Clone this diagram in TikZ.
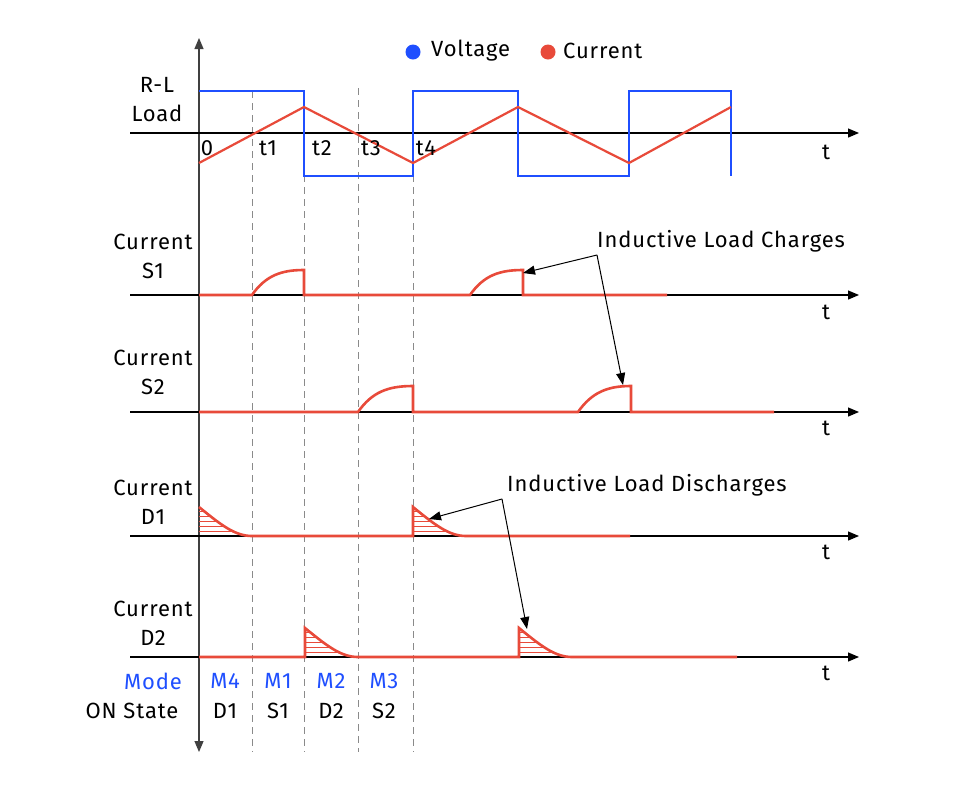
\documentclass[tikz,border=0pt]{standalone}
\usepackage{fontspec}
\setmainfont[LetterSpace=4]{Fira Sans}
\usetikzlibrary{arrows.meta}
\definecolor{vblue}{HTML}{1F4FFF}
\definecolor{cred}{HTML}{E84A3A}
\definecolor{dgray}{HTML}{8A8A8A}
\begin{document}
\begin{tikzpicture}[x=1pt,y=-1pt,
  lbl/.style={font=\fontsize{22}{29}\selectfont, inner sep=0pt, align=center},
  axisline/.style={line width=1.2pt, -{Triangle[length=11pt,width=9pt]}},
  vaxis/.style={line width=1.2pt, draw=black!75},
  volt/.style={draw=vblue, line width=2.6pt},
  curr/.style={draw=cred, line width=2.2pt},
  sig/.style={draw=cred, line width=2.6pt, line join=miter},
  hatch/.style={draw=cred, line width=0.8pt},
  guide/.style={draw=dgray, line width=1pt, dash pattern=on 7pt off 5pt},
  callout/.style={line width=1pt, -{Triangle[length=12pt,width=9pt]}}]
\useasboundingbox (0,0) rectangle (961,807);
\fill[white] (0,0) rectangle (961,807);

% guide lines
\foreach \gx/\gy in {252/91, 304/91, 358/88, 413/91}
  \draw[guide] (\gx,\gy) -- (\gx,752);

% vertical axis
\coordinate (vtop) at (199,38);
\coordinate (vbot) at (199,752);
\draw[vaxis, -{Triangle[length=11pt,width=9pt]}] (199,400) -- (vtop);
\draw[vaxis, -{Triangle[length=11pt,width=9pt]}] (199,400) -- (vbot);

% horizontal axes
\foreach \ay/\nm in {133/a0, 295/a1, 412/a2, 536/a3, 657/a4}{
  \coordinate (\nm s) at (130,\ay);
  \coordinate (\nm e) at (859,\ay);
  \draw[axisline] (\nm s) -- (\nm e);
}

% voltage
\draw[volt] (199,91) -- (304,91) -- (304,176) -- (413,176) -- (413,91) -- (518,91) -- (518,176) -- (629,176) -- (629,91) -- (731,91) -- (731,176);
% current
\draw[curr] (199,163) -- (304,107) -- (413,163) -- (518,107) -- (629,163) -- (731,107);

% S1
\draw[sig] (199,295) -- (252,295) .. controls (266,275) and (282,270) .. (304,270) -- (304,295) -- (470,295)
  .. controls (484,275) and (500,270) .. (523,270) -- (523,295) -- (667,295);
% S2
\draw[sig] (199,412) -- (358,412) .. controls (372,392) and (388,386) .. (413,386) -- (413,412) -- (578,412)
  .. controls (592,392) and (608,386) .. (631,386) -- (631,412) -- (774,412);

% hatched pulses
\foreach \px/\py in {199/536, 413/536, 305/657, 519/657}{
  \begin{scope}
    \clip (\px,\py-29) .. controls (\px+22,\py-11) and (\px+36,\py) .. (\px+53,\py) -- (\px,\py) -- cycle;
    \foreach \k in {1,...,6} \draw[hatch] (\px,\py-5*\k) -- (\px+55,\py-5*\k);
  \end{scope}
}
\draw[sig] (199,507) .. controls (221,525) and (235,536) .. (252,536) -- (413,536) -- (413,507)
  .. controls (435,525) and (449,536) .. (466,536) -- (630,536);
\draw[sig] (199,657) -- (305,657) -- (305,628) .. controls (327,646) and (341,657) .. (358,657) -- (519,657) -- (519,628)
  .. controls (541,646) and (555,657) .. (572,657) -- (737,657);

% legend
\fill[vblue] (413,52) circle (7.5pt);
\node[lbl, anchor=west] (legv) at (431,51) {Voltage};
\fill[cred] (548,52) circle (7.5pt);
\node[lbl, anchor=west] (legc) at (563,51) {Current};

% labels
\node[lbl] (rl) at (157,100) {R-L\\Load};
\node[lbl] (cs1) at (153,256) {Current\\S1};
\node[lbl] (cs2) at (153,372) {Current\\S2};
\node[lbl] (cd1) at (153,502) {Current\\D1};
\node[lbl] (cd2) at (153,623) {Current\\D2};
\node[lbl, text=vblue] (mode) at (153,681) {Mode};
\node[lbl] (onst) at (132,711) {ON State};
\foreach \tx/\tt in {207/0, 268/t1, 322/t2, 371/t3, 426/t4}
  \node[lbl] at (\tx,148) {\tt};
\foreach \ty in {152,312,428,552,673}
  \node[lbl] at (826,\ty) {t};
\foreach \mx/\mm/\ms in {225/M4/D1, 278/M1/S1, 331/M2/D2, 384/M3/S2}{
  \node[lbl, text=vblue] at (\mx,681) {\mm};
  \node[lbl] at (\mx,711) {\ms};
}

% callouts
\node[lbl, anchor=west] (chg) at (597,241) {Inductive Load Charges};
\coordinate (cho) at (597,255);
\coordinate (ch1) at (523,273);
\coordinate (ch2) at (623,385);
\draw[callout] (cho) -- (ch1);
\draw[callout] (cho) -- (ch2);
\node[lbl, anchor=west] (dis) at (507,485) {Inductive Load Discharges};
\coordinate (dio) at (502,499);
\coordinate (di1) at (429,519);
\coordinate (di2) at (527,629);
\draw[callout] (dio) -- (di1);
\draw[callout] (dio) -- (di2);
\end{tikzpicture}
\end{document}
